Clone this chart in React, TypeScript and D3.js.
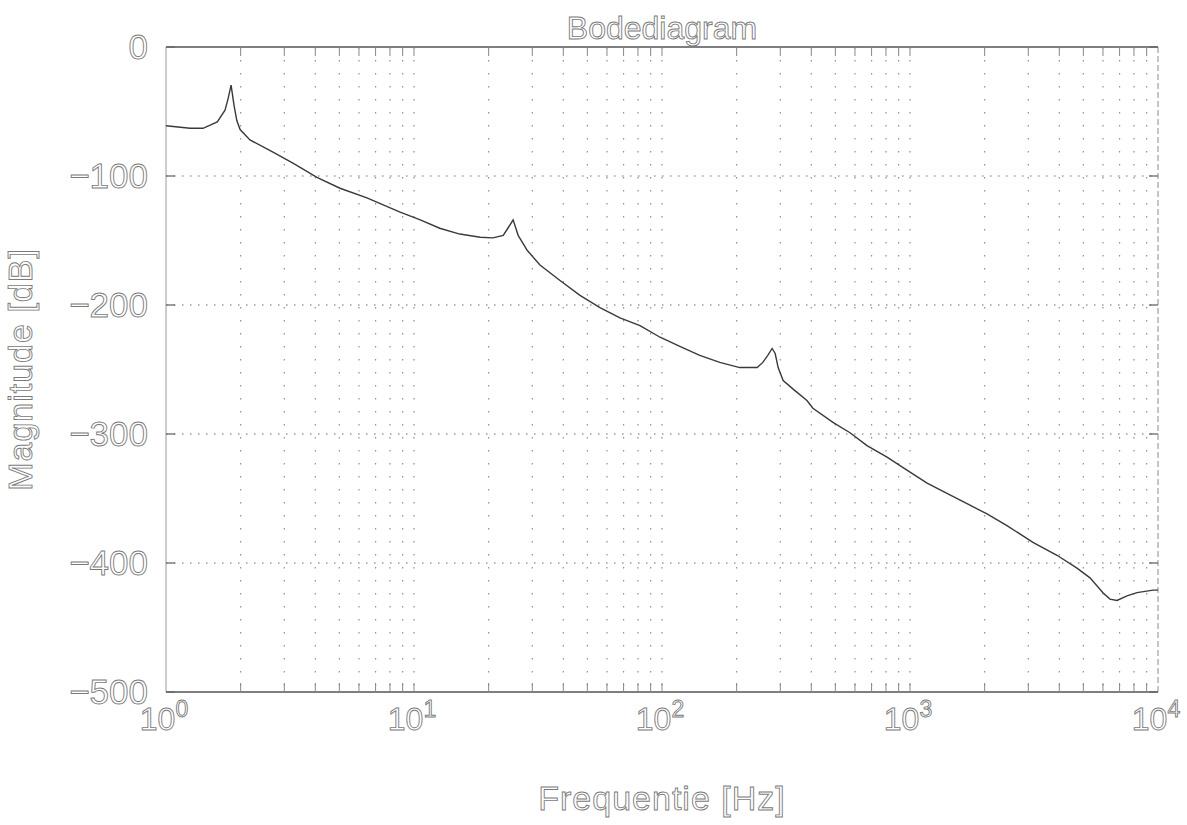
import React from 'react';
import * as d3 from 'd3';

// frequency points [Hz] and magnitude [dB]
const freqHz = [
  1.0, 1.25, 1.41, 1.61, 1.73, 1.78, 1.83, 1.88, 1.93, 1.99, 2.18, 2.7, 3.25, 4.06, 5.03, 6.46,
  8.79, 10.6, 12.7, 15.3, 18.5, 20.8, 22.9, 23.9, 25.1, 26.3, 28.6, 32.2, 38.8, 46.7, 56.2,
  67.7, 81.5, 98.2, 118, 142, 171, 206, 242, 255, 267, 278, 286, 294, 308, 337, 384, 406,
  489, 573, 671, 808, 972, 1172, 1410, 1698, 2044, 2460, 3131, 3915, 4713, 5319, 5998,
  6400, 6835, 7499, 8227, 9550, 10000,
];
const magnitudeDb = [
  -61, -63, -63, -58, -49, -40, -29.5, -45, -57, -64, -72, -81.5, -90, -101, -109.5, -117,
  -128, -134, -140.5, -145, -147.5, -148, -146, -140.5, -134, -146, -157.6, -169, -181, -192.5, -202,
  -210, -216, -225, -232, -239, -244.5, -248.5, -248.5, -244.5, -239, -233.7, -237.6, -248.5, -258.5, -265, -274, -280,
  -291, -299, -309, -318, -328, -338, -346, -354, -362, -371, -384, -394, -404, -411.5, -423,
  -428, -429, -425.5, -423, -421, -421,
];

const yTicks = [0, -100, -200, -300, -400, -500];
const xDecades = [0, 1, 2, 3, 4];
const title = 'Bodediagram';
const xLabel = 'Frequentie [Hz]';
const yLabel = 'Magnitude [dB]';

const width = 1187;
const height = 825;
const margin = { top: 47, right: 29, bottom: 133, left: 166 };

const textStyle = {
  fontFamily: '"Liberation Sans", Arial, sans-serif',
  fill: '#ffffff',
  stroke: '#7a7a7a',
  strokeWidth: 0.9,
};

function BodePlot() {
  const innerW = width - margin.left - margin.right;
  const innerH = height - margin.top - margin.bottom;

  const x = d3.scaleLog().domain([1, 10000]).range([0, innerW]);
  const y = d3.scaleLinear().domain([-500, 0]).range([innerH, 0]);

  const minorTicks = x.ticks().filter((t) => t > 1 && t < 10000);
  const points: [number, number][] = freqHz.map((f, i) => [f, magnitudeDb[i]]);
  const line = d3
    .line<[number, number]>()
    .x((d) => x(d[0]))
    .y((d) => y(d[1]));

  return (
    <svg width={width} height={height} style={{ position: 'absolute', left: 0, top: 0, background: '#fff' }}>
      <g transform={`translate(${margin.left},${margin.top})`}>
        {/* vertical grid, every 1..9 per decade */}
        {minorTicks.map((t) => (
          <line key={'vg' + t} x1={x(t)} x2={x(t)} y1={0} y2={innerH}
            stroke="#909090" strokeWidth={1.2} strokeDasharray="1.5 11.5" />
        ))}
        {/* horizontal grid */}
        {yTicks.filter((t) => t !== 0 && t !== -500).map((t) => (
          <line key={'hg' + t} x1={0} x2={innerW} y1={y(t)} y2={y(t)}
            stroke="#6a6a6a" strokeWidth={1.2} strokeDasharray="1.5 6.5" />
        ))}

        {/* box */}
        <line x1={0} x2={innerW} y1={0} y2={0} stroke="#555" strokeWidth={1.3} />
        <line x1={0} x2={innerW} y1={innerH} y2={innerH} stroke="#555" strokeWidth={1.3} />
        <line x1={0} x2={0} y1={0} y2={innerH} stroke="#9a9a9a" strokeWidth={1} />
        <line x1={innerW} x2={innerW} y1={0} y2={innerH} stroke="#8a8a8a" strokeWidth={1} strokeDasharray="6 3" />

        {/* ticks on the box */}
        {minorTicks.map((t) => (
          <g key={'xt' + t} stroke="#888" strokeWidth={1}>
            <line x1={x(t)} x2={x(t)} y1={0} y2={9} />
            <line x1={x(t)} x2={x(t)} y1={innerH} y2={innerH - 9} />
          </g>
        ))}
        {yTicks.map((t) => (
          <g key={'yt' + t} stroke="#666" strokeWidth={1.3}>
            <line x1={0} x2={9} y1={y(t)} y2={y(t)} />
            <line x1={innerW} x2={innerW - 9} y1={y(t)} y2={y(t)} />
          </g>
        ))}

        {/* magnitude curve */}
        <path d={line(points) || ''} fill="none" stroke="#3a3a3a" strokeWidth={1.4} />

        {/* y tick labels */}
        {yTicks.map((t) => (
          <text key={'yl' + t} x={-18} y={y(t)} dy="0.34em" textAnchor="end" fontSize={35} style={textStyle}>
            {t === 0 ? '0' : '\u2212' + Math.abs(t)}
          </text>
        ))}

        {/* x tick labels 10^k */}
        {xDecades.map((k) => (
          <text key={'xl' + k} x={x(Math.pow(10, k)) - 2} y={innerH + 38} textAnchor="middle" fontSize={32} style={textStyle}>
            10
            <tspan dy={-13} fontSize={23}>{k}</tspan>
          </text>
        ))}

        <text x={innerW / 2} y={-8} textAnchor="middle" fontSize={32} style={textStyle}>{title}</text>
        <text x={innerW / 2} y={innerH + 118} textAnchor="middle" fontSize={34} letterSpacing={1} style={textStyle}>{xLabel}</text>
        <text transform={`translate(${-134},${innerH / 2}) rotate(-90)`} textAnchor="middle" fontSize={34}
          letterSpacing={1} style={textStyle}>{yLabel}</text>
      </g>
    </svg>
  );
}

export default function App() {
  return <BodePlot />;
}
